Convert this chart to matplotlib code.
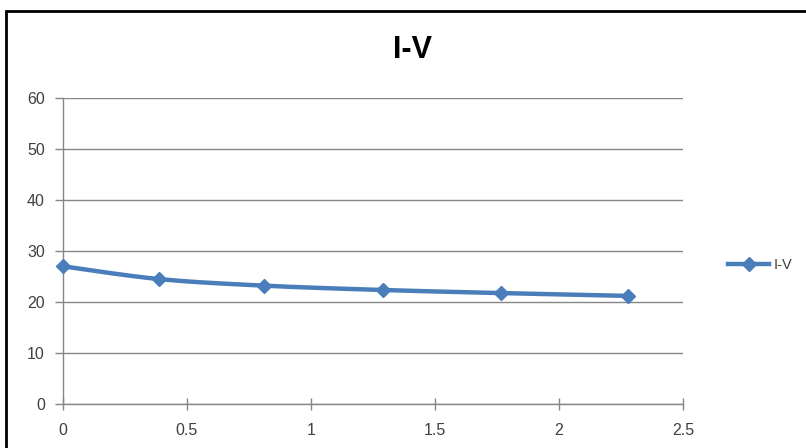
import numpy as np
import matplotlib
matplotlib.use('Agg')
from matplotlib import pyplot as plt
from matplotlib.patches import Rectangle
from matplotlib.lines import Line2D

# data
v = [0.0, 0.387, 0.812, 1.292, 1.765, 2.277]
i = [27.0, 24.5, 23.2, 22.35, 21.75, 21.2]
xticks = [0, 0.5, 1, 1.5, 2, 2.5]
yticks = [0, 10, 20, 30, 40, 50, 60]

blue = '#4a7ebb'
grid_col = '#868686'
txt_col = '#404040'


def smooth(xs, ys, n=30):
    # catmull-rom curve through the points, like excel's smoothed line
    p = np.column_stack([xs, ys])
    p = np.vstack([p[0], p, p[-1]])
    out = []
    t = np.linspace(0, 1, n)[:, None]
    for k in range(1, len(p) - 2):
        p0, p1, p2, p3 = p[k - 1], p[k], p[k + 1], p[k + 2]
        seg = 0.5 * ((2 * p1) + (-p0 + p2) * t + (2 * p0 - 5 * p1 + 4 * p2 - p3) * t ** 2
                     + (-p0 + 3 * p1 - 3 * p2 + p3) * t ** 3)
        out.append(seg)
    out = np.vstack(out)
    return out[:, 0], out[:, 1]


plt.rcParams['font.family'] = ['Liberation Sans', 'DejaVu Sans']

W, H = 806, 448
fig = plt.figure(figsize=(W / 100, H / 100), dpi=100)
fig.patch.set_facecolor('white')

# outer border of the chart box
fig.add_artist(Rectangle((6 / W, -0.1), 1.1, (H - 11) / H + 0.1, transform=fig.transFigure,
                         fill=False, edgecolor='black', linewidth=2))

ax = fig.add_axes([63 / W, (H - 404) / H, (683 - 63) / W, (404 - 98) / H])
ax.set_xlim(0, 2.5)
ax.set_ylim(0, 60)
ax.set_xticks(xticks)
ax.set_xticklabels(['0', '0.5', '1', '1.5', '2', '2.5'])
ax.set_yticks(yticks)
ax.yaxis.grid(True, color=grid_col, linewidth=1)
ax.set_axisbelow(True)
for s in ['top', 'right']:
    ax.spines[s].set_visible(False)
for s in ['left', 'bottom']:
    ax.spines[s].set_color(grid_col)
    ax.spines[s].set_linewidth(1)
ax.tick_params(axis='both', colors=grid_col, labelcolor=txt_col, labelsize=11.5, width=1)
ax.tick_params(axis='x', direction='inout', length=9, pad=9)
ax.tick_params(axis='y', direction='out', length=6, pad=7)

sx, sy = smooth(v, i)
ax.plot(sx, sy, color=blue, linewidth=3.2, solid_capstyle='round', zorder=3)
ax.plot(v, i, linestyle='none', marker='D', markersize=7, color=blue, zorder=4, clip_on=False)

fig.text(412 / W, 1 - 50 / H, 'I-V', ha='center', va='center', fontsize=22, fontweight='bold',
         color='black')

handle = Line2D([], [], color=blue, linewidth=3.2, marker='D', markersize=7)
fig.legend([handle], ['I-V'], loc='center left', bbox_to_anchor=(715 / W, 1 - 265 / H),
           frameon=False, fontsize=10.5, handlelength=2.8, handletextpad=0.35, labelcolor=txt_col)

fig.savefig('out.png', dpi=100)
